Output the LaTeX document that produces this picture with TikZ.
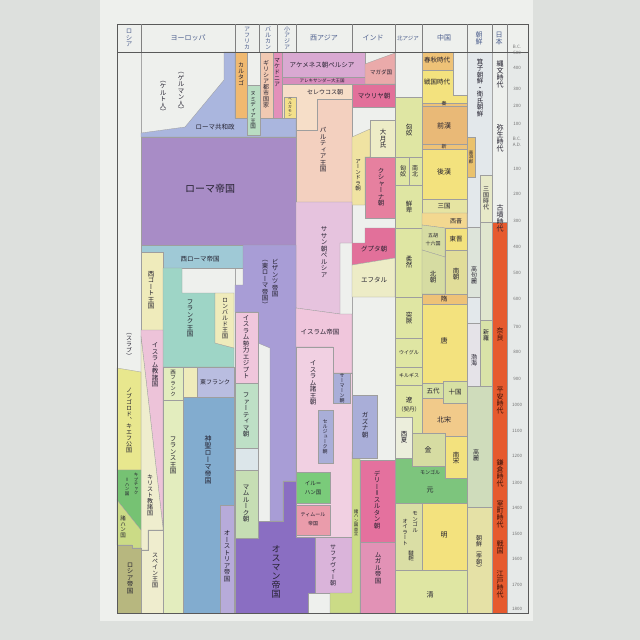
\documentclass[tikz,border=0pt]{standalone}
\usepackage{fontspec}
\setmainfont{Noto Sans CJK JP}
\newfontfamily\jp{Noto Sans CJK JP}
\newfontfamily\jpv[RawFeature=+vert]{Noto Sans CJK JP}
\ExplSyntaxOn
\NewDocumentCommand{\tate}{m}{\vbox{\offinterlineskip
  \tl_map_inline:nn {#1} {\hbox to 1em{\hss\vrule width 0pt height 0.88em depth 0.12em ##1\hss}}}}
\ExplSyntaxOff
\definecolor{bgc}{HTML}{DDE0DD}
\definecolor{paper}{HTML}{EEF0ED}
\definecolor{yrs}{HTML}{E6E9E8}
\definecolor{hdr}{HTML}{4D5F8E}
\definecolor{ink}{HTML}{24212F}
\definecolor{redink}{HTML}{3B1208}
\definecolor{rome}{HTML}{A88CC6}
\definecolor{repub}{HTML}{AAB6DE}
\definecolor{wrome}{HTML}{9FC9D6}
\definecolor{frank}{HTML}{9ED5C6}
\definecolor{hre}{HTML}{82ACCF}
\definecolor{byz}{HTML}{A89DD6}
\definecolor{otto}{HTML}{8A6EC2}
\definecolor{isl}{HTML}{F0C6DC}
\definecolor{isltwo}{HTML}{F1D0E2}
\definecolor{islst}{HTML}{EDC3D9}
\definecolor{sasan}{HTML}{E6C3DE}
\definecolor{parth}{HTML}{F3D0BF}
\definecolor{seleu}{HTML}{F6DEC8}
\definecolor{achae}{HTML}{D9A9D2}
\definecolor{alex}{HTML}{D88DBD}
\definecolor{maur}{HTML}{E2709A}
\definecolor{magada}{HTML}{EAAAAA}
\definecolor{kush}{HTML}{E6809F}
\definecolor{cream}{HTML}{EDECC6}
\definecolor{pyel}{HTML}{EFEBBB}
\definecolor{andhra}{HTML}{F0E3A2}
\definecolor{nomad}{HTML}{DFE6A3}
\definecolor{chyel}{HTML}{F3E27E}
\definecolor{chora}{HTML}{EEC277}
\definecolor{qianhan}{HTML}{E9B977}
\definecolor{chpea}{HTML}{F1CA8A}
\definecolor{olive}{HTML}{D6DCA2}
\definecolor{sanguo}{HTML}{E6E4A2}
\definecolor{xijin}{HTML}{F3D890}
\definecolor{nanchao}{HTML}{E1DD99}
\definecolor{wudai}{HTML}{D7E0A3}
\definecolor{xixia}{HTML}{ECEEDC}
\definecolor{oirat}{HTML}{DADEA5}
\definecolor{yuan}{HTML}{7DC57D}
\definecolor{ilkh}{HTML}{7ACB7A}
\definecolor{timur}{HTML}{EA9CAB}
\definecolor{safa}{HTML}{DAB4DA}
\definecolor{delhi}{HTML}{E4719E}
\definecolor{mugh}{HTML}{E292B6}
\definecolor{ghaz}{HTML}{A9AED8}
\definecolor{fati}{HTML}{BEE0C6}
\definecolor{ayyub}{HTML}{DCE6EA}
\definecolor{maml}{HTML}{C6DEB4}
\definecolor{aust}{HTML}{B7ABDA}
\definecolor{efrank}{HTML}{B9BDE0}
\definecolor{france}{HTML}{E3EDBE}
\definecolor{christ}{HTML}{EFEDCE}
\definecolor{carth}{HTML}{F0B970}
\definecolor{numid}{HTML}{B9DDC2}
\definecolor{greek}{HTML}{F1C9B2}
\definecolor{maced}{HTML}{E390BA}
\definecolor{perg}{HTML}{F3E08A}
\definecolor{kipch}{HTML}{76C273}
\definecolor{khans}{HTML}{CBDB86}
\definecolor{russ}{HTML}{B7B77F}
\definecolor{novg}{HTML}{E8E78E}
\definecolor{japan}{HTML}{E65A2E}
\definecolor{korea}{HTML}{E3E8EB}
\definecolor{lelang}{HTML}{EAC26D}
\definecolor{kthree}{HTML}{E7E9C8}
\definecolor{goguryeo}{HTML}{DDE4DA}
\definecolor{kstrip}{HTML}{E0E6CE}
\definecolor{silla}{HTML}{D9E3A8}
\definecolor{balhae}{HTML}{E5E3E8}
\definecolor{goryeo}{HTML}{CFDCBB}
\definecolor{joseon}{HTML}{E5E1A6}
\tikzset{
  area/.style={fill=#1, draw=black!38, line width=0.3pt},
  lab/.style={font=\jp\fontsize{#1}{#1}\selectfont, text=ink, inner sep=0pt},
  lab/.default=6.5,
  vlab/.style={font=\jpv\fontsize{#1}{#1}\selectfont, text=ink, inner sep=0pt},
  vlab/.default=6.5,
  hd/.style={text=hdr},
  jlab/.style={vlab=7, text=redink},
  yr/.style={font=\jp\fontsize{4.5}{4.5}\selectfont, text=black!55, inner sep=0pt},
}
\begin{document}
\begin{tikzpicture}[x=1pt,y=-1pt]
\useasboundingbox (0,0) rectangle (640,640);
\fill[bgc] (0,0) rectangle (640,640);
\fill[paper] (100,0) rectangle (533,621);
\fill[yrs] (507,52) rectangle (528,613);
\fill[korea] (467,52) rectangle (492,388);
\foreach \cx in {141,235,296,352,395,422,467,492,507}
  \draw[black!35, line width=0.3pt] (\cx,52) -- (\cx,613);

\draw[area=repub] (224,52) -- (235,52) -- (235,118) -- (296,118) -- (296,137) -- (141,137) -- (141,133) -- (185,127) -- (224,80) -- cycle;
\draw[area=carth] (235,52) rectangle (247,118);
\draw[area=numid] (247,85) rectangle (260,135);
\draw[area=greek] (260,52) rectangle (273,118);
\draw[area=maced] (273,52) rectangle (282,118);
\draw[area=achae] (282,52) rectangle (365,77);
\draw[area=alex] (282,77) rectangle (365,84);
\draw[area=seleu] (282,84) -- (352,84) -- (352,99) -- (317,99) -- (317,130) -- (296,130) -- (296,118) -- (282,118) -- cycle;
\draw[area=perg] (284,97) rectangle (296,118);
\draw[area=parth] (317,99) -- (352,99) -- (352,202) -- (296,202) -- (296,130) -- (317,130) -- cycle;
\draw[area=magada] (365,64) -- (395,53) -- (395,84) -- (365,84) -- cycle;
\draw[area=maur] (352,84) rectangle (395,107);
\draw[area=cream] (370,120) rectangle (395,157);
\draw[area=andhra] (352,137) -- (370,129) -- (370,157) -- (365,157) -- (365,205) -- (352,205) -- cycle;
\draw[area=kush] (365,157) rectangle (395,218);
\draw[area=maur] (365,228) -- (395,228) -- (395,258) -- (352,265) -- (352,243) -- (365,243) -- cycle;
\draw[area=cream] (352,265) -- (395,258) -- (395,297) -- (352,297) -- cycle;
\draw[area=rome] (141,137) rectangle (296,245);
\draw[area=sasan] (296,202) -- (352,202) -- (352,243) -- (340,243) -- (340,314) -- (296,308) -- cycle;
\draw[area=wrome] (141,245) -- (243,245) -- (243,268) -- (163,268) -- (163,252) -- (141,252) -- cycle;
\draw[area=byz] (243,245) -- (296,245) -- (296,481) -- (283,481) -- (283,521) -- (270,521) -- (270,348) -- (258,343) -- (258,312) -- (235,312) -- (235,285) -- (243,285) -- cycle;
\draw[area=pyel] (141,252) rectangle (163,330);
\draw[area=frank] (163,268) -- (182,268) -- (182,293) -- (215,293) -- (215,343) -- (234,348) -- (234,367) -- (163,367) -- cycle;
\draw[area=pyel] (215,293) -- (234,293) -- (234,348) -- (215,343) -- cycle;
\draw[area=islst] (141,330) -- (163,330) -- (163,528) -- (141,336) -- cycle;
\draw[area=christ] (141,336) -- (163,528) -- (163,530) -- (148,530) -- (148,550) -- (141,550) -- cycle;
\draw[area=christ] (148,530) -- (163,530) -- (163,613) -- (141,613) -- (141,550) -- (148,550) -- cycle;
\draw[area=france] (163,367) rectangle (183,400);
\draw[area=pyel] (183,367) rectangle (197,397);
\draw[area=efrank] (197,367) rectangle (234,397);
\draw[area=france] (163,400) rectangle (183,613);
\draw[area=hre] (183,397) -- (234,397) -- (234,505) -- (220,505) -- (220,613) -- (183,613) -- cycle;
\draw[area=aust] (220,505) rectangle (234,613);
\draw[area=isl] (235,312) rectangle (258,383);
\draw[area=fati] (235,383) rectangle (258,448);
\draw[area=ayyub] (235,448) rectangle (258,470);
\draw[area=maml] (235,470) rectangle (258,538);
\draw[area=otto] (283,481) -- (296,481) -- (296,537) -- (315,537) -- (315,593) -- (308,593) -- (308,613) -- (235,613) -- (235,538) -- (258,538) -- (258,521) -- (283,521) -- cycle;
\draw[area=novg] (117,368) -- (141,372) -- (141,470) -- (117,470) -- cycle;
\draw[area=kipch] (117,470) -- (141,470) -- (141,530) -- (117,500) -- cycle;
\draw[area=khans] (117,500) -- (141,530) -- (141,548) -- (132,548) -- (132,545) -- (117,545) -- cycle;
\draw[area=russ] (117,545) -- (132,545) -- (132,548) -- (141,548) -- (141,613) -- (117,613) -- cycle;

\draw[area=isl] (296,308) -- (340,314) -- (352,314) -- (352,373) -- (333,373) -- (333,347) -- (296,347) -- cycle;
\draw[area=isltwo] (296,347) -- (333,347) -- (333,373) -- (352,373) -- (352,537) -- (296,537) -- cycle;
\draw[area=ghaz] (333,373) rectangle (350,403);
\draw[area=ghaz] (318,410) rectangle (333,463);
\draw[area=ilkh] (296,472) rectangle (330,503);
\draw[area=timur] (296,505) rectangle (330,535);
\draw[area=safa] (315,537) rectangle (352,593);
\draw[area=khans] (352,452) -- (360,458) -- (360,613) -- (330,613) -- (330,593) -- (352,593) -- cycle;
\draw[area=ghaz] (352,395) rectangle (377,458);
\draw[area=delhi] (360,460) rectangle (395,542);
\draw[area=mugh] (360,542) rectangle (395,613);

\draw[area=nomad] (395,97) rectangle (422,458);
\foreach \ly in {157,185,228,297,338,367,385}
  \draw[black!38, line width=0.3pt] (395,\ly) -- (422,\ly);
\draw[black!38, line width=0.3pt] (409,157) -- (409,185);
\draw[area=xixia] (395,417) rectangle (412,458);
\draw[area=olive] (412,433) rectangle (445,466);
\draw[area=yuan] (395,458) -- (412,458) -- (412,466) -- (445,466) -- (445,478) -- (467,478) -- (467,503) -- (395,503) -- cycle;
\draw[area=oirat] (395,503) rectangle (422,570);
\draw[area=nomad] (395,570) rectangle (467,613);

\draw[area=chora] (422,52) rectangle (453,70);
\draw[area=chyel] (422,70) -- (453,70) -- (453,95) -- (467,95) -- (467,103) -- (422,103) -- cycle;
\draw[area=chora] (422,103) rectangle (467,106);
\draw[area=qianhan] (422,106) rectangle (467,144);
\draw[area=chora] (422,144) rectangle (467,149);
\draw[area=chyel] (422,149) rectangle (467,199);
\draw[area=sanguo] (422,199) rectangle (467,213);
\draw[area=xijin] (422,213) -- (467,213) -- (467,228) -- (445,228) -- (422,225) -- cycle;
\draw[area=olive] (422,225) -- (445,228) -- (445,257) -- (422,250) -- cycle;
\draw[area=chyel] (445,228) rectangle (467,250);
\draw[area=nanchao] (445,250) rectangle (467,294);
\draw[area=olive] (422,250) -- (445,257) -- (445,294) -- (422,294) -- cycle;
\draw[area=chora] (422,294) rectangle (467,304);
\draw[area=chyel] (422,304) rectangle (467,383);
\draw[area=wudai] (422,383) rectangle (443,398);
\draw[area=wudai] (443,381) rectangle (467,403);
\draw[area=chpea] (422,398) -- (443,398) -- (443,403) -- (467,403) -- (467,436) -- (445,436) -- (445,433) -- (422,433) -- cycle;
\draw[area=chyel] (445,436) rectangle (467,478);
\draw[area=chyel] (422,503) rectangle (467,570);

\draw[area=lelang] (467,137) rectangle (475,177);
\draw[area=kthree] (480,175) rectangle (492,222);
\draw[area=goguryeo] (467,227) rectangle (480,297);
\draw[area=kstrip] (480,222) rectangle (492,320);
\draw[area=silla] (480,320) rectangle (492,386);
\draw[area=balhae] (467,323) rectangle (480,386);
\draw[area=goryeo] (467,386) rectangle (492,507);
\draw[area=joseon] (467,507) rectangle (492,613);
\draw[area=japan] (492,222) rectangle (507,613);

\draw[black!65, line width=0.6pt] (117,24) rectangle (528,613);
\draw[black!65, line width=0.5pt] (117,52) -- (528,52);
\foreach \cx in {141,235,259,277,296,352,395,422,467,492,507}
  \draw[black!50, line width=0.4pt] (\cx,24) -- (\cx,52);

\node[vlab, hd] (hrus) at (129,38) {\tate{ロシア}};
\node[lab=7, hd] (heur) at (188,38) {ヨーロッパ};
\node[vlab=6, hd] (hafr) at (247,38) {\tate{アフリカ}};
\node[vlab=6, hd] (hbal) at (268,38) {\tate{バルカン}};
\node[vlab=6, hd] (hmin) at (287,38) {\tate{小アジア}};
\node[lab=7, hd] (hwas) at (324,38) {西アジア};
\node[lab=7, hd] (hind) at (373,38) {インド};
\node[lab=5.5, hd] (hnas) at (408,38) {北アジア};
\node[lab=7, hd] (hchn) at (444,38) {中国};
\node[vlab=7, hd] (hkor) at (479,38) {\tate{朝鮮}};
\node[vlab=7, hd] (hjap) at (499,38) {\tate{日本}};

\node[vlab] (celt) at (163,96) {\tate{（ケルト人）}};
\node[vlab] (germ) at (181,91) {\tate{（ゲルマン人）}};
\node[lab] (repubL) at (215,127) {ローマ共和政};
\node[vlab=6] (carthL) at (241,74) {\tate{カルタゴ}};
\node[vlab=5.5] (numidL) at (253,110) {\tate{ヌミディア王国}};
\node[vlab=6] (greekL) at (266,84) {\tate{ギリシア都市国家}};
\node[vlab=6] (macedL) at (277,72) {\tate{マケドニア}};
\node[vlab=3.8] (pergL) at (290,107) {\tate{ペルガモン}};
\node[lab] (achaeL) at (322,65) {アケメネス朝ペルシア};
\node[lab=4.5] (alexL) at (322,81) {アレキサンダー大王国};
\node[lab=6] (seleuL) at (325,92) {セレウコス朝};
\node[lab=5.5] (magadaL) at (381,72) {マガダ国};
\node[lab] (maurL) at (374,96) {マウリヤ朝};
\node[vlab] (parthL) at (323,150) {\tate{パルティア王国}};
\node[vlab] (yuezhiL) at (383,139) {\tate{大月氏}};
\node[vlab=5.5] (andhraL) at (358,175) {\tate{アーンドラ朝}};
\node[vlab] (kushL) at (381,187) {\tate{クシャーナ朝}};
\node[lab] (guptaL) at (374,249) {グプタ朝};
\node[lab] (hephL) at (374,280) {エフタル};
\node[lab=10] (romeL) at (210,189) {ローマ帝国};
\node[vlab] (sasanL) at (324,252) {\tate{ササン朝ペルシア}};
\node[lab] (wromeL) at (200,259) {西ローマ帝国};
\node[vlab] (byzL) at (275,278) {\tate{ビザンツ帝国}};
\node[vlab] (byztwoL) at (265,282) {\tate{（東ローマ帝国）}};
\node[vlab] (visigL) at (151,290) {\tate{西ゴート王国}};
\node[vlab] (frankL) at (190,318) {\tate{フランク王国}};
\node[vlab=6] (lombL) at (225,318) {\tate{ロンバルド王国}};
\node[vlab] (egyptL) at (246,347) {\tate{イスラム勢力エジプト}};
\node[vlab] (fatiL) at (246,415) {\tate{ファーティマ朝}};
\node[vlab] (mamlL) at (246,503) {\tate{マムルーク朝}};
\node[vlab=9] (ottoL) at (276,572) {\tate{オスマン帝国}};
\node[vlab] (austL) at (227,556) {\tate{オーストリア帝国}};
\node[vlab=7] (hreL) at (208,460) {\tate{神聖ローマ帝国}};
\node[vlab] (franceL) at (173,455) {\tate{フランス王国}};
\node[vlab=5.5] (wfrankL) at (173,383) {\tate{西フランク}};
\node[lab=6] (efrankL) at (215,382) {東フランク};
\node[vlab] (islstL) at (155,365) {\tate{イスラム教諸国}};
\node[vlab=6] (christL) at (150,495) {\tate{キリスト教諸国}};
\node[vlab=6] (spainL) at (155,570) {\tate{スペイン王国}};
\node[vlab=6] (slavL) at (129,344) {\tate{（スラブ）}};
\node[vlab=6] (novgL) at (129,420) {\tate{ノブゴロド、キエフ公国}};
\node[vlab=4.5] (kipchL) at (136,484) {\tate{キプチャク}};
\node[vlab=4.5] (kipchtwoL) at (127,487) {\tate{＝ハン国}};
\node[vlab=5.5] (khansL) at (123,527) {\tate{諸ハン国}};
\node[vlab] (russL) at (130,578) {\tate{ロシア帝国}};

\node[lab] (islempL) at (320,332) {イスラム帝国};
\node[vlab] (isldynL) at (313,383) {\tate{イスラム諸王朝}};
\node[vlab=5] (samanL) at (342,388) {\tate{サーマーン朝}};
\node[vlab=5] (seljL) at (325,437) {\tate{セルジューク朝}};
\node[vlab] (ghazL) at (365,425) {\tate{ガズナ朝}};
\node[lab=5.5] (ilkhL) at (313,483) {イル＝};
\node[lab=5.5] (ilkhtwoL) at (313,493) {ハン国};
\node[lab=5] (timurL) at (313,515) {ティムール};
\node[lab=5] (timurtwoL) at (313,524) {帝国};
\node[vlab=6] (safaL) at (333,565) {\tate{サファヴィー朝}};
\node[vlab] (delhiL) at (377,500) {\tate{デリー＝スルタン朝}};
\node[vlab] (mughL) at (378,568) {\tate{ムガル帝国}};
\node[vlab=4.5] (khanstwoL) at (356,523) {\tate{諸ハン国並立}};

\node[vlab] (xiongnuL) at (409,130) {\tate{匈奴}};
\node[vlab=6] (nanbeiL) at (415,171) {\tate{南北}};
\node[vlab=6] (xiongnutwoL) at (403,171) {\tate{匈奴}};
\node[vlab] (xianbeiL) at (409,207) {\tate{鮮卑}};
\node[vlab] (rouranL) at (409,262) {\tate{柔然}};
\node[vlab] (tujueL) at (409,318) {\tate{突厥}};
\node[lab=5] (uyghurL) at (409,353) {ウイグル};
\node[lab=5] (kirgL) at (409,376) {キルギス};
\node[lab] (liaoL) at (409,400) {遼};
\node[lab=5.5] (liaotwoL) at (409,409) {（契丹）};
\node[vlab] (xixiaL) at (404,437) {\tate{西夏}};
\node[lab=7] (jinL) at (428,450) {金};
\node[lab=5] (mongL) at (430,472) {モンゴル};
\node[lab=7] (yuanL) at (430,490) {元};
\node[vlab=5.5] (mongtwoL) at (415,522) {\tate{モンゴル}};
\node[vlab=5.5] (oiratL) at (405,532) {\tate{オイラート}};
\node[vlab=5.5] (tataL) at (411,556) {\tate{韃靼}};
\node[lab=7] (qingL) at (430,595) {清};

\node[lab] (chunqiuL) at (437,60) {春秋時代};
\node[lab] (zhanguoL) at (437,82) {戦国時代};
\node[lab=5] (qinL) at (444,104) {秦};
\node[lab=7] (qianhanL) at (444,126) {前漢};
\node[lab=5] (xinL) at (444,147) {新};
\node[lab=7] (houhanL) at (444,172) {後漢};
\node[lab] (sanguoL) at (444,206) {三国};
\node[lab=6] (xijinL) at (456,221) {西晋};
\node[lab=5] (wuhuL) at (433,236) {五胡};
\node[lab=5] (wuhutwoL) at (433,244) {十六国};
\node[lab] (dongjinL) at (456,239) {東晋};
\node[vlab] (beichaoL) at (433,277) {\tate{北朝}};
\node[vlab] (nanchaoL) at (456,274) {\tate{南朝}};
\node[lab] (suiL) at (444,299) {隋};
\node[lab=7] (tangL) at (444,341) {唐};
\node[lab] (wudaiL) at (433,391) {五代};
\node[lab] (shiguoL) at (455,392) {十国};
\node[lab=7] (beisongL) at (444,420) {北宋};
\node[vlab] (nansongL) at (456,458) {\tate{南宋}};
\node[lab=7] (mingL) at (444,535) {明};

\node[vlab] (jiziL) at (480,88) {\tate{箕子朝鮮・衛氏朝鮮}};
\node[vlab=4.5] (lelangL) at (471,157) {\tate{楽浪郡}};
\node[vlab=6] (kthreeL) at (486,198) {\tate{三国時代}};
\node[vlab=6] (goguryeoL) at (474,275) {\tate{高句麗}};
\node[vlab=6] (sillaL) at (486,335) {\tate{新羅}};
\node[vlab=6] (balhaeL) at (474,360) {\tate{渤海}};
\node[vlab=6] (goryeoL) at (476,455) {\tate{高麗}};
\node[vlab=6] (joseonL) at (479,553) {\tate{朝鮮（李朝）}};

\node[vlab=7] (jomonL) at (500,74) {\tate{縄文時代}};
\node[vlab=7] (yayoiL) at (500,138) {\tate{弥生時代}};
\node[vlab=7] (kofunL) at (500,218) {\tate{古墳時代}};
\node[jlab] (naraL) at (500,334) {\tate{奈良}};
\node[jlab] (heianL) at (500,400) {\tate{平安時代}};
\node[jlab] (kamaL) at (500,473) {\tate{鎌倉時代}};
\node[jlab] (muroL) at (500,514) {\tate{室町時代}};
\node[jlab] (sengokuL) at (500,547) {\tate{戦国}};
\node[jlab] (edoL) at (500,584) {\tate{江戸時代}};

\node[yr] (bcA) at (517,47) {B.C.};
\node[yr] (bcB) at (517,53) {500};
\node[yr] (bcC) at (517,68) {400};
\node[yr] (bcD) at (517,89) {300};
\node[yr] (bcE) at (517,106) {200};
\node[yr] (bcF) at (517,124) {100};
\node[yr] (bcG) at (517,139) {B.C.};
\node[yr] (adA) at (517,145) {A.D.};
\foreach \yv/\yy in {100/169,200/194,300/221,400/247,500/273,600/299,700/327,800/352,900/379,1000/405,1100/431,1200/456,1300/483,1400/508,1500/534,1600/559,1700/585,1800/609}
  \node[yr] (yr\yv) at (517,\yy) {\yv};
\end{tikzpicture}
\end{document}
